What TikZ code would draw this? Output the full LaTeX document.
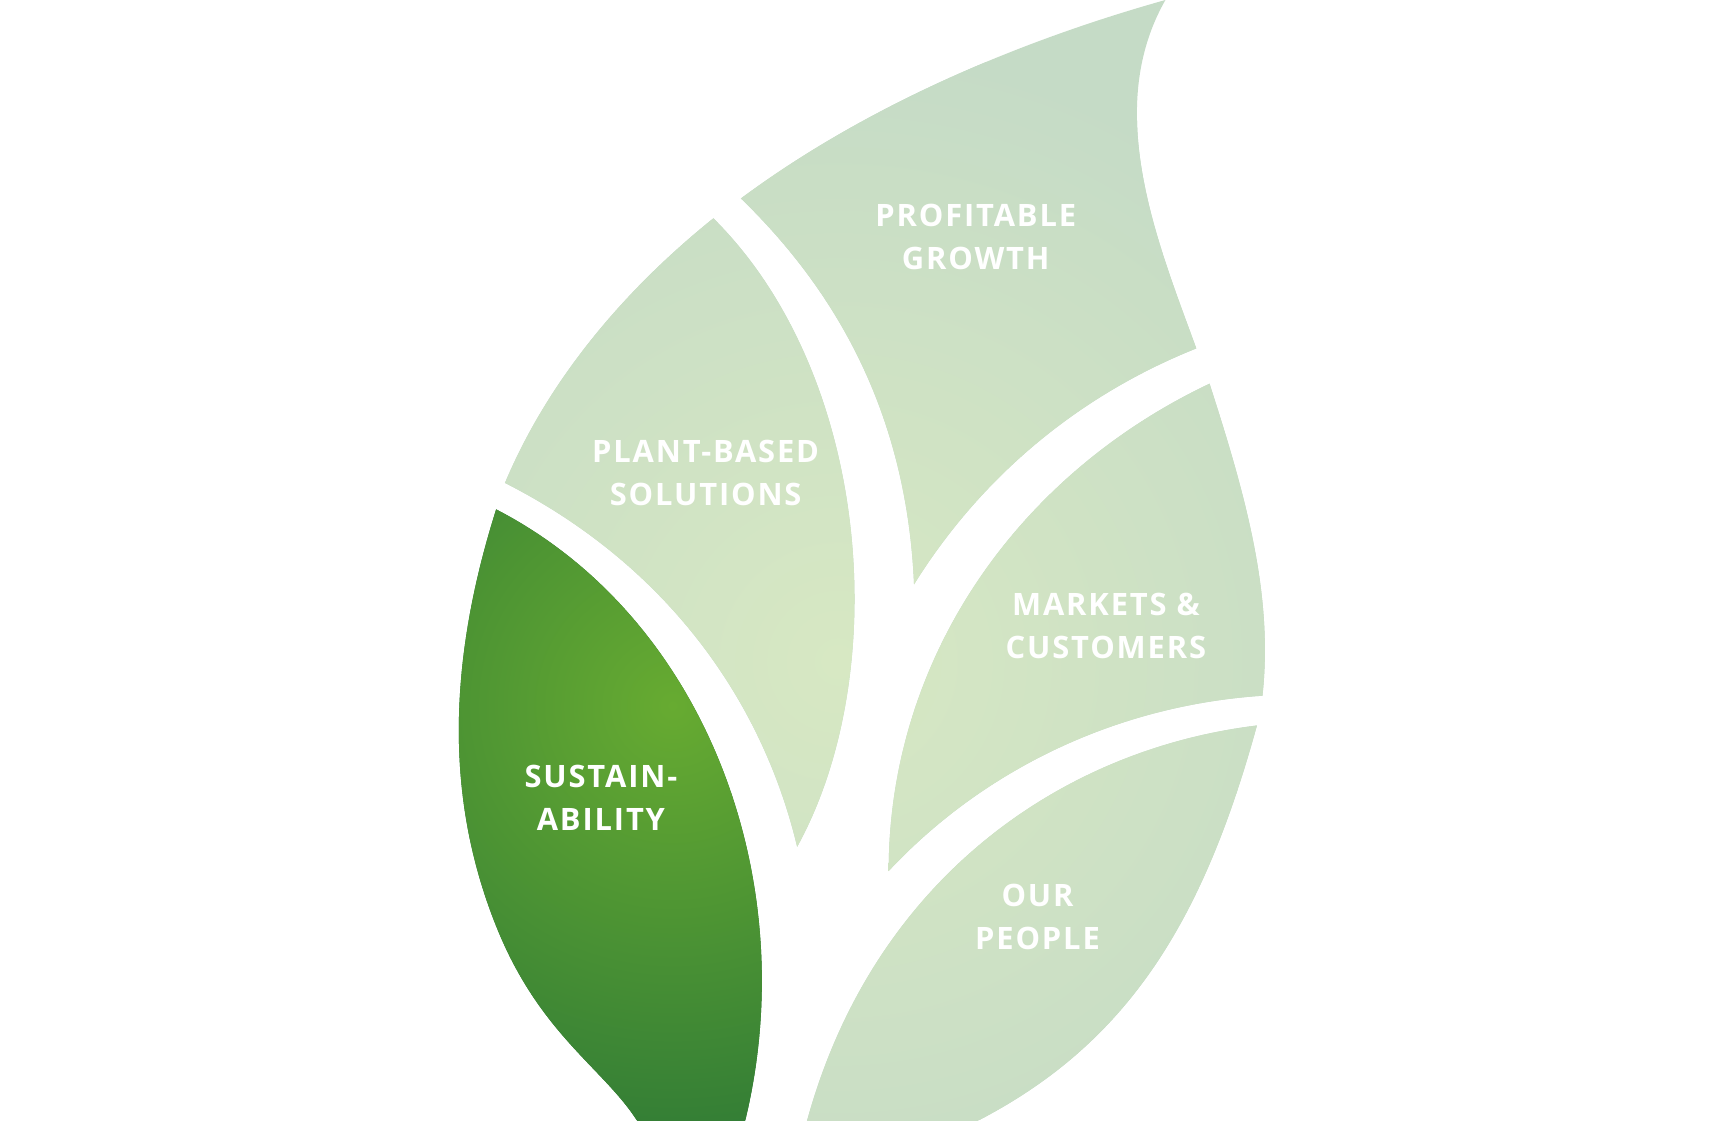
\documentclass[tikz,border=0pt]{standalone}
\usepackage{fontspec}
\setmainfont{Open Sans}[LetterSpace=6]
\begin{document}
\begin{tikzpicture}[x=1pt,y=-1pt,
  lbl/.style={text=white,font=\fontsize{28}{39}\selectfont\bfseries,align=center}]
\definecolor{lin}{HTML}{D7E8C3}\definecolor{lout}{HTML}{C5DBC6}
\definecolor{din}{HTML}{67AB31}\definecolor{dout}{HTML}{2F7A36}
\useasboundingbox (0,0) rectangle (1560,1016);
\newcommand\lightleaf[1]{\begin{scope}\clip #1;\fill[lout] (0,0) rectangle (1560,1016);\shade[inner color=lin,outer color=lout] (760,600) circle (560);\end{scope}}
% sustainability
\begin{scope}
\clip (450,462) .. controls (400,620) and (410,740) .. (450,840) .. controls (490,940) and (550,970) .. (580,1020) -- (675,1020) .. controls (730,800) and (640,560) .. (450,462) -- cycle;
\fill[dout] (0,0) rectangle (1560,1016);
\shade[inner color=din,outer color=dout] (610,640) circle (420);
\end{scope}
% plant-based
\lightleaf{(647,198) .. controls (560,268) and (495,350) .. (458,438) .. controls (600,510) and (690,630) .. (723,768) .. controls (810,610) and (790,340) .. (647,198) -- cycle}
% profitable
\lightleaf{(672,180) .. controls (800,85) and (950,30) .. (1057,0) .. controls (1000,100) and (1050,220) .. (1085,316) .. controls (970,362) and (885,440) .. (829,530) .. controls (823,390) and (770,275) .. (672,180) -- cycle}
% markets
\lightleaf{(1097,348) .. controls (1130,450) and (1155,540) .. (1145,631) .. controls (1010,640) and (890,700) .. (806,790) .. controls (806,600) and (920,432) .. (1097,348) -- cycle}
% our people
\lightleaf{(1140,658) .. controls (1090,840) and (1020,950) .. (880,1020) -- (731,1020) .. controls (790,800) and (960,680) .. (1140,658) -- cycle}
\node[lbl] (pg) at (885,215) {PROFITABLE\\GROWTH};
\node[lbl] (pb) at (640,429) {PLANT-BASED\\SOLUTIONS};
\node[lbl] (mc) at (1003,568) {MARKETS \&\\CUSTOMERS};
\node[lbl] (su) at (545,724) {SUSTAIN-\\ABILITY};
\node[lbl] (op) at (941,832) {OUR\\PEOPLE};
\end{tikzpicture}
\end{document}
